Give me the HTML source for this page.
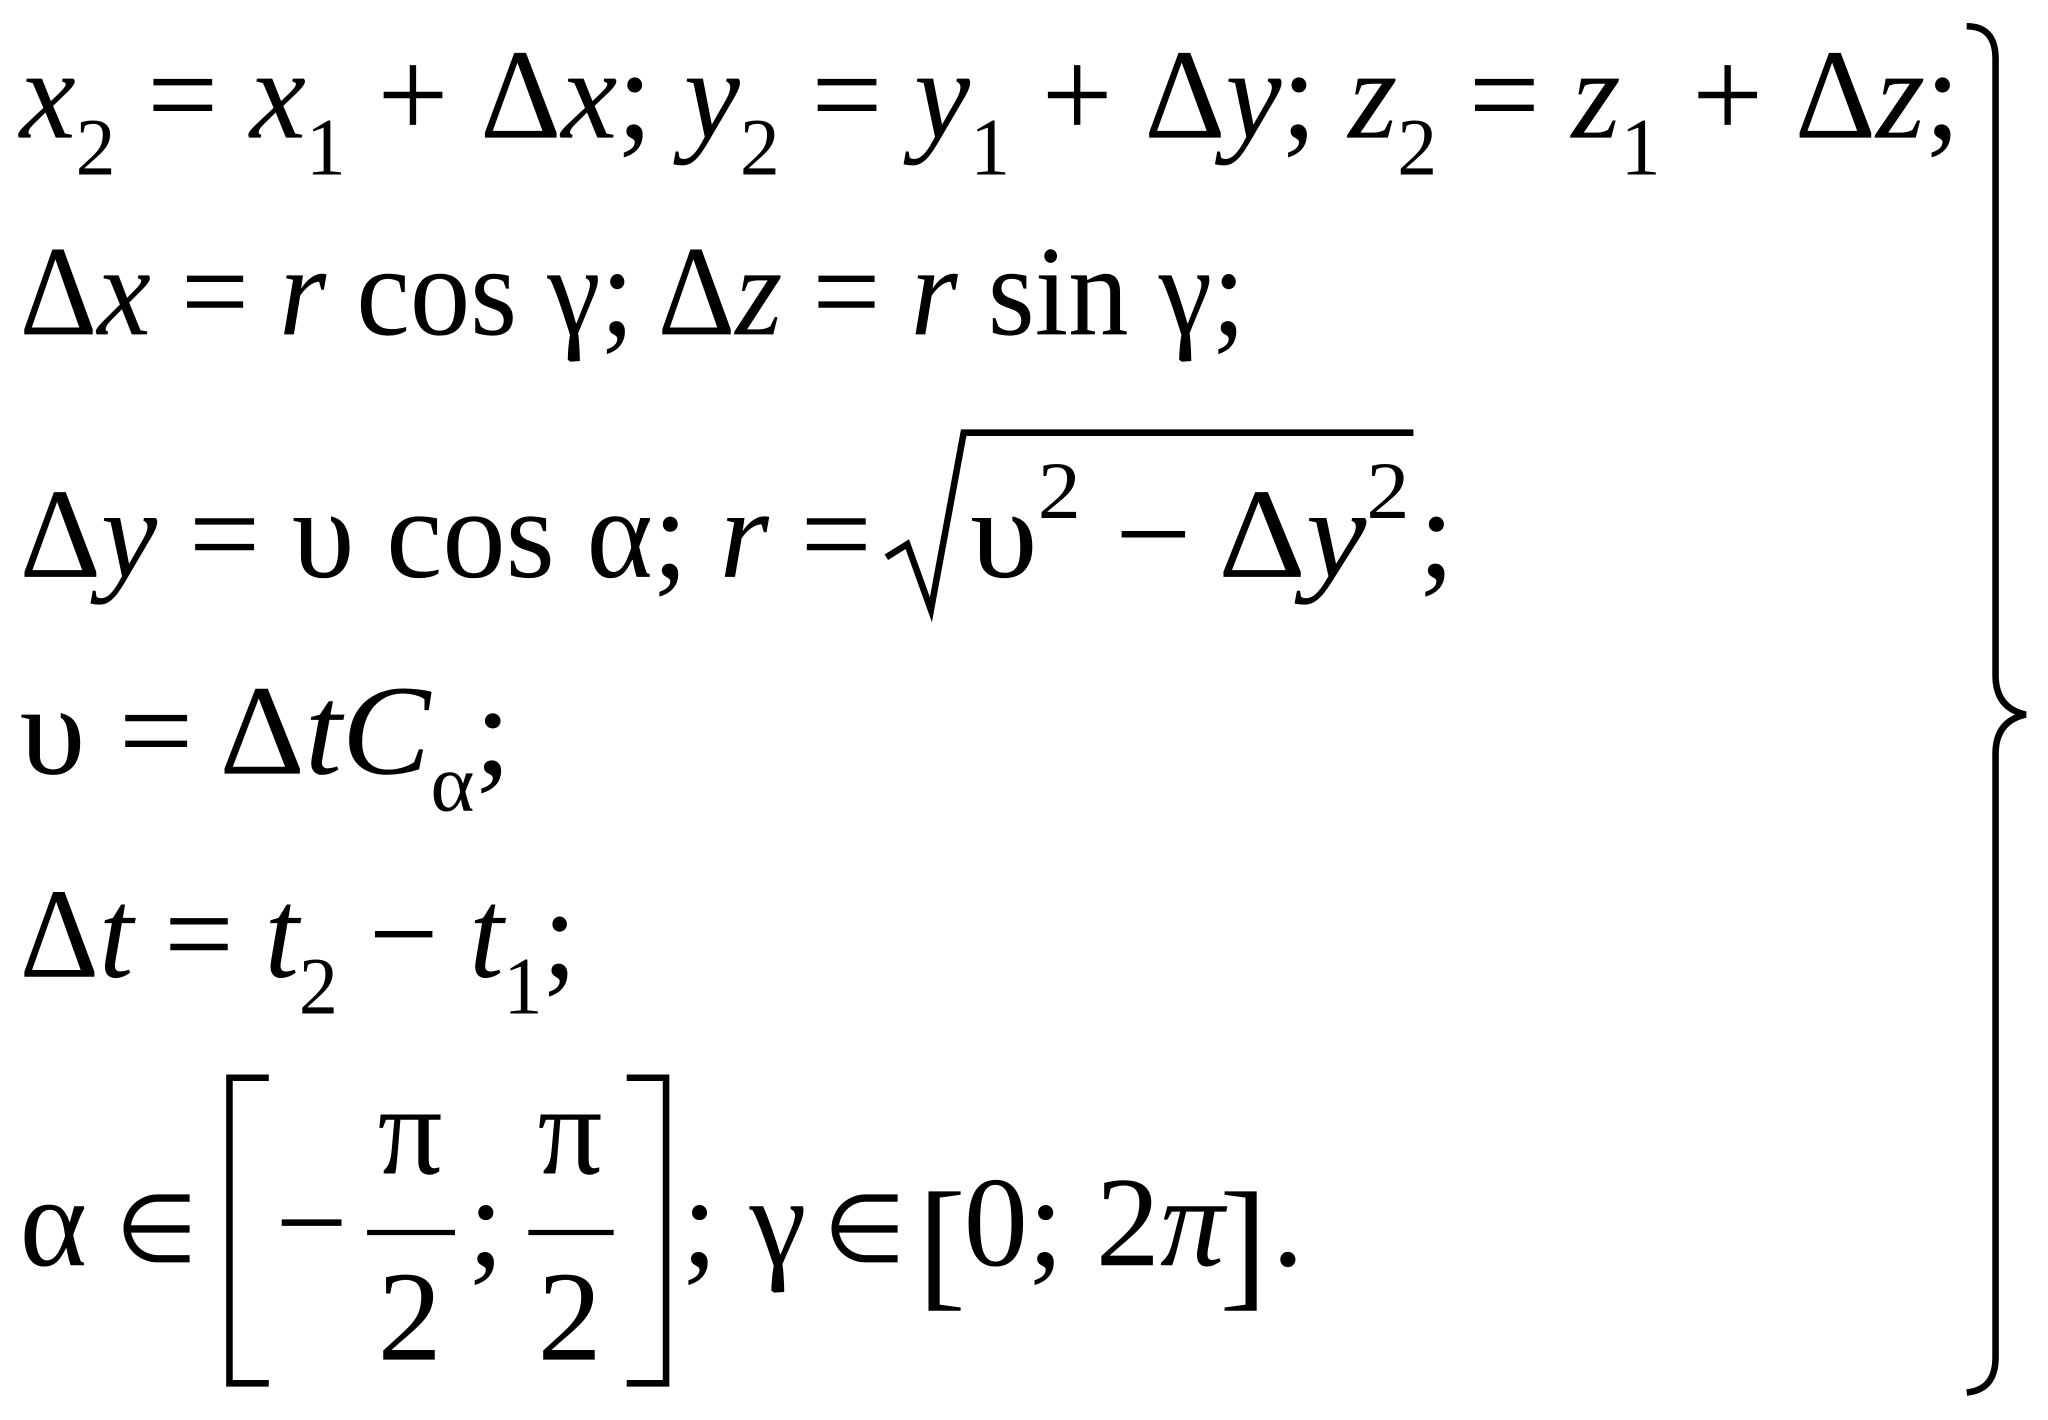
<!DOCTYPE html>
<html><head><meta charset="utf-8"><style>
html,body{margin:0;padding:0;background:#fff;}
svg{display:block;font-family:"Liberation Serif","Times New Roman",Times,serif}
text{font-family:"Liberation Serif","Times New Roman",Times,serif;fill:#000}
.i{font-style:italic}
</style></head><body>
<svg width="2048" height="1420" viewBox="0 0 1562 1083" preserveAspectRatio="none" xmlns="http://www.w3.org/2000/svg" font-family="Liberation Serif, Times New Roman, serif">
<text y="105" font-size="98" x="15" textLength="1480" lengthAdjust="spacingAndGlyphs"><tspan class="i">x</tspan><tspan font-size="62" dy="28">2</tspan><tspan dy="-28"> = </tspan><tspan class="i">x</tspan><tspan font-size="62" dy="28">1</tspan><tspan dy="-28"> + Δ</tspan><tspan class="i">x</tspan>; <tspan class="i">y</tspan><tspan font-size="62" dy="28">2</tspan><tspan dy="-28"> = </tspan><tspan class="i">y</tspan><tspan font-size="62" dy="28">1</tspan><tspan dy="-28"> + Δ</tspan><tspan class="i">y</tspan>; <tspan class="i">z</tspan><tspan font-size="62" dy="28">2</tspan><tspan dy="-28"> = </tspan><tspan class="i">z</tspan><tspan font-size="62" dy="28">1</tspan><tspan dy="-28"> + Δ</tspan><tspan class="i">z</tspan>;</text>
<text y="255" font-size="98" x="15" textLength="935" lengthAdjust="spacingAndGlyphs">Δ<tspan class="i">x</tspan> = <tspan class="i">r</tspan> cos γ; Δ<tspan class="i">z</tspan> = <tspan class="i">r</tspan> sin γ;</text>
<text y="440" font-size="98" x="15" textLength="650" lengthAdjust="spacingAndGlyphs">Δ<tspan class="i">y</tspan> = υ cos α; <tspan class="i">r</tspan> =</text>
<path d="M676 425 L692 415 L710 465 L735 330 L1078 330" fill="none" stroke="#000" stroke-width="5"/>
<text y="440" font-size="98" x="740" textLength="335" lengthAdjust="spacingAndGlyphs">υ<tspan font-size="62" dy="-45">2</tspan><tspan dy="45"> − Δ</tspan><tspan class="i">y</tspan><tspan font-size="62" dy="-45">2</tspan></text>
<text y="440" font-size="98" x="1082">;</text>
<text y="590" font-size="98" x="15" textLength="375" lengthAdjust="spacingAndGlyphs">υ = Δ<tspan class="i">tC</tspan><tspan font-size="62" dy="28">α</tspan><tspan dy="-28">;</tspan></text>
<text y="745" font-size="98" x="15" textLength="425" lengthAdjust="spacingAndGlyphs">Δ<tspan class="i">t</tspan> = <tspan class="i">t</tspan><tspan font-size="62" dy="28">2</tspan><tspan dy="-28"> − </tspan><tspan class="i">t</tspan><tspan font-size="62" dy="28">1</tspan><tspan dy="-28">;</tspan></text>
<text y="965" font-size="98" x="15">α</text>
<text y="962" font-size="72" x="88">∈</text>
<path d="M205 822 L175 822 L175 1055 L205 1055" fill="none" stroke="#000" stroke-width="5"/>
<text y="965" font-size="98" x="210">−</text>
<text y="895" font-size="98" x="288">π</text>
<line x1="280" y1="940" x2="347" y2="940" stroke="#000" stroke-width="4"/>
<text y="1037" font-size="98" x="288">2</text>
<text y="965" font-size="98" x="357">;</text>
<text y="895" font-size="98" x="410">π</text>
<line x1="403" y1="940" x2="468" y2="940" stroke="#000" stroke-width="4"/>
<text y="1037" font-size="98" x="410">2</text>
<path d="M478 822 L508 822 L508 1055 L478 1055" fill="none" stroke="#000" stroke-width="5"/>
<text y="965" font-size="98" x="520">; γ</text>
<text y="962" font-size="72" x="628">∈</text>
<text y="985" font-size="110" x="700">[</text>
<text y="965" font-size="98" x="735">0; 2<tspan class="i">π</tspan></text>
<text y="985" font-size="110" x="930">]</text>
<text y="965" font-size="98" x="970">.</text>
<path d="M1500 20 Q1522 20 1522 45 L1522 515 Q1522 540 1545 545 Q1522 550 1522 575 L1522 1035 Q1522 1060 1500 1062" fill="none" stroke="#000" stroke-width="5"/>
</svg>
</body></html>
